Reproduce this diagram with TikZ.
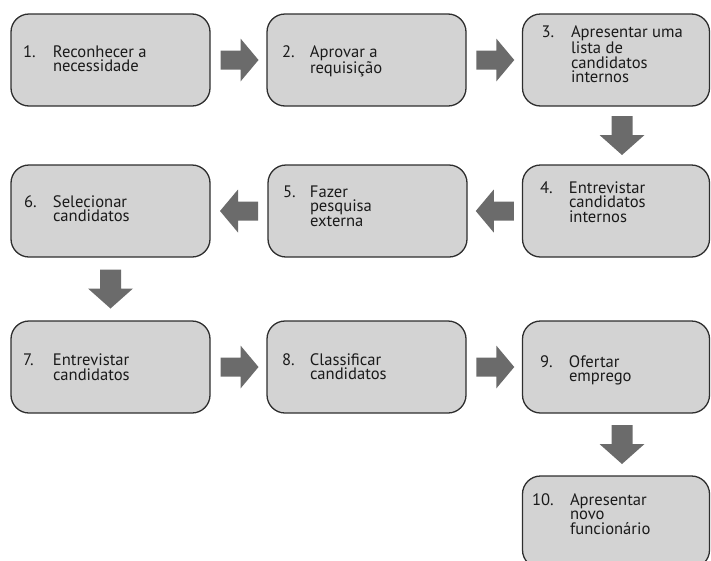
\documentclass[tikz,border=0pt]{standalone}
\usepackage{fontspec}
\setmainfont{PT Sans}
\usetikzlibrary{calc}
\definecolor{boxfill}{HTML}{D3D3D3}
\definecolor{boxline}{HTML}{2E2E2E}
\definecolor{arrowfill}{HTML}{6B6B6B}
\definecolor{inkgray}{HTML}{1A1A1A}
% label font with a fixed, tight line pitch
\newcommand{\labelfont}{\fontsize{16.6pt}{14.5pt}\selectfont\lineskiplimit=-20pt\relax}
% number in a fixed-width slot, then the step text with a hanging indent
\newcommand{\stepentry}[3]{\makebox[#1][l]{#2}\parbox[t]{150pt}{\raggedright #3}}

\begin{document}
\begin{tikzpicture}[x=1pt,y=-1pt,
  stepbox/.style={draw=boxline, fill=boxfill, line width=1.3pt,
    rounded corners=18pt, minimum height=92pt, inner sep=0pt},
  widebox/.style={stepbox, minimum width=199pt},
  narrowbox/.style={stepbox, minimum width=187pt},
  steplabel/.style={inner sep=0pt, outer sep=0pt, anchor=base west,
    text=inkgray, font=\labelfont},
  pics/blockright/.style={code={
    \fill[arrowfill] (-19,-9.5) -- (1,-9.5) -- (1,-21.5) -- (19,0)
      -- (1,21.5) -- (1,9.5) -- (-19,9.5) -- cycle;}},
  pics/blockleft/.style={code={
    \fill[arrowfill] (19,-9.5) -- (-1,-9.5) -- (-1,-21.5) -- (-19,0)
      -- (-1,21.5) -- (-1,9.5) -- (19,9.5) -- cycle;}},
  pics/blockdown/.style={code={
    \fill[arrowfill] (-10.5,-19.5) -- (10.5,-19.5) -- (10.5,-0.5) -- (22.5,-0.5)
      -- (0,19.5) -- (-22.5,-0.5) -- (-10.5,-0.5) -- cycle;}}
]
\useasboundingbox (0,0) rectangle (711,560);
\clip (0,0) rectangle (711,560);

% boxes
\node[widebox]   (b1)  at (110.5,60)  {};
\node[widebox]   (b2)  at (366.5,60)  {};
\node[narrowbox] (b3)  at (616,60)    {};
\node[narrowbox] (b4)  at (616,211)   {};
\node[widebox]   (b5)  at (367.5,211) {};
\node[widebox]   (b6)  at (110.5,211) {};
\node[widebox]   (b7)  at (110.5,367) {};
\node[widebox]   (b8)  at (366.5,367) {};
\node[narrowbox] (b9)  at (616,367)   {};
\node[narrowbox] (b10) at (616,522)   {};

% step texts
\node[steplabel] (t1)  at (23,57)    {\stepentry{30pt}{1.}{Reconhecer a\\necessidade}};
\node[steplabel] (t2)  at (282,57)   {\stepentry{28pt}{2.}{Aprovar a\\requisição}};
\node[steplabel] (t3)  at (541.5,37.5) {\stepentry{29.5pt}{3.}{Apresentar uma\\lista de\\candidatos\\internos}};
\node[steplabel] (t4)  at (540,193)  {\stepentry{29pt}{4.}{Entrevistar\\candidatos\\internos}};
\node[steplabel] (t5)  at (283,197)  {\stepentry{27pt}{5.}{Fazer\\pesquisa\\externa}};
\node[steplabel] (t6)  at (24,207)   {\stepentry{29pt}{6.}{Selecionar\\candidatos}};
\node[steplabel] (t7)  at (23,365.5) {\stepentry{30pt}{7.}{Entrevistar\\candidatos}};
\node[steplabel] (t8)  at (282,365)  {\stepentry{28pt}{8.}{Classificar\\candidatos}};
\node[steplabel] (t9)  at (540,367)  {\stepentry{29pt}{9.}{Ofertar\\emprego}};
\node[steplabel] (t10) at (532,505)  {\stepentry{38pt}{10.}{Apresentar\\novo\\funcionário}};

% block arrows between consecutive steps
\pic at ($(b1.east)!0.5!(b2.west)+(1,0)$) {blockright};
\pic at ($(b2.east)!0.5!(b3.west)+(1,0)$) {blockright};
\pic at ($(b3.south)!0.5!(b4.north)+(6,0)$) {blockdown};
\pic at ($(b4.west)!0.5!(b5.east)$) {blockleft};
\pic at ($(b5.west)!0.5!(b6.east)$) {blockleft};
\pic at ($(b6.south)!0.5!(b7.north)$) {blockdown};
\pic at ($(b7.east)!0.5!(b8.west)+(1,0)$) {blockright};
\pic at ($(b8.east)!0.5!(b9.west)+(1,0)$) {blockright};
\pic at ($(b9.south)!0.5!(b10.north)+(6,0)$) {blockdown};
\end{tikzpicture}
\end{document}
